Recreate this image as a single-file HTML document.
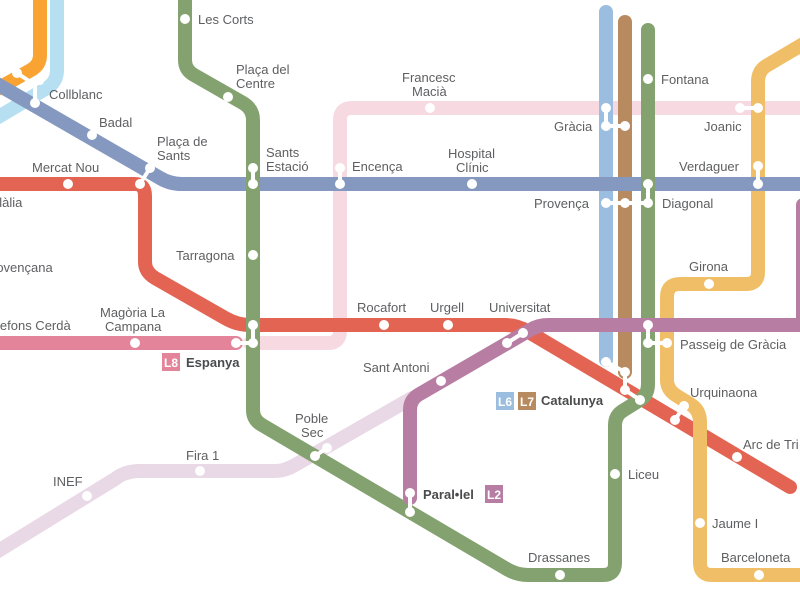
<!DOCTYPE html>
<html><head><meta charset="utf-8"><style>
html,body{margin:0;padding:0;background:#fff;}
svg{display:block;}
text{font-family:"Liberation Sans",sans-serif;font-size:13px;fill:#5e5f61;}
.b{font-weight:bold;fill:#4a4b4d;}
</style></head><body>
<svg width="800" height="600" viewBox="0 0 800 600" xmlns="http://www.w3.org/2000/svg">
<g fill="none" stroke-linecap="round" stroke-linejoin="round" stroke-width="14">
<!-- light purple -->
<path d="M-10,556 L115,479 Q125,471 140,471 L275,471 Q285,471 295,465 L412,398" stroke="#e9d8e5"/>
<!-- light pink -->
<path d="M810,108 L352,108 Q340,108 340,120 L340,331 Q340,343 328,343 L250,343" stroke="#f7d9e1"/>
<!-- L8 pink -->
<path d="M-10,343 L236,343" stroke="#e4849b"/>
<!-- top-left orange/light blue -->
<path d="M57,-10 L57,70 Q57,82 47,88 L-10,122" stroke="#b7dff2"/>
<path d="M40,-10 L40,55 Q40,65 31,70 L-10,93" stroke="#f9a332"/>
<!-- L6 L7 -->
<path d="M606,12 L606,360" stroke="#9bbde0"/>
<path d="M625,22 L625,372" stroke="#b78b5f"/>
<!-- red L1 -->
<path d="M-10,184 L135,184 Q145,184 145,196 L145,262 Q145,272 155,278 L225,318 Q237,325 250,325 L505,325 Q517,325 527,331 L790,487" stroke="#e36452"/>
<!-- yellow L4 -->
<path d="M810,40 L766,66 Q758,71 758,82 L758,272 Q758,284 746,284 L680,284 Q667,284 667,297 L667,380 Q667,390 677,396 L690,404 Q700,410 700,422 L700,563 Q700,575 712,575 L810,575" stroke="#f0be66"/>
<!-- blue L5 -->
<path d="M-10,80 L160,178 Q170,184 182,184 L810,184" stroke="#8599c0"/>
<!-- green L3 -->
<path d="M185,-10 L185,60 Q185,70 194,75 L243,103 Q253,109 253,120 L253,410 Q253,420 262,425 L505,568 Q516,575 528,575 L603,575 Q615,575 615,563 L615,425 Q615,415 624,410 L640,400 Q648,395 648,384 L648,30" stroke="#84a26f"/>
<!-- purple L2 -->
<path d="M803,205 L803,320 M810,325 L548,325 Q538,325 530,330 L418,395 Q410,400 410,410 L410,498" stroke="#b87da3"/>
</g>
<!-- connectors -->
<g stroke="#fff" stroke-width="4" fill="none" stroke-linecap="round">
<path d="M17,73 L35,85 L35,103 M35,85 L40,81"/>
<path d="M150,168 L140,184"/>
<path d="M253,168 L253,184"/>
<path d="M340,168 L340,184"/>
<path d="M253,325 L253,343 L236,343"/>
<path d="M507,343 L523,333"/>
<path d="M315,456 L327,448"/>
<path d="M410,493 L410,512"/>
<path d="M606,108 L606,126 L625,126"/>
<path d="M606,203 L648,203 L648,184"/>
<path d="M740,108 L758,108"/>
<path d="M758,166 L758,184"/>
<path d="M648,325 L648,343 L667,343"/>
<path d="M606,362 L625,372 L625,390 L640,400"/>
<path d="M675,420 L684,406"/>
</g>
<g fill="#fff">
<circle cx="185" cy="19" r="5"/><circle cx="228" cy="97" r="5"/>
<circle cx="17" cy="73" r="5"/><circle cx="35" cy="103" r="5"/><circle cx="40" cy="81" r="4"/>
<circle cx="92" cy="135" r="5"/><circle cx="150" cy="168" r="5"/><circle cx="140" cy="184" r="5"/>
<circle cx="68" cy="184" r="5"/><circle cx="253" cy="168" r="5"/><circle cx="253" cy="184" r="5"/>
<circle cx="340" cy="168" r="5"/><circle cx="340" cy="184" r="5"/><circle cx="472" cy="184" r="5"/>
<circle cx="253" cy="255" r="5"/><circle cx="430" cy="108" r="5"/>
<circle cx="606" cy="108" r="5"/><circle cx="606" cy="126" r="5"/><circle cx="625" cy="126" r="5"/>
<circle cx="648" cy="79" r="5"/><circle cx="740" cy="108" r="5"/><circle cx="758" cy="108" r="5"/>
<circle cx="758" cy="166" r="5"/><circle cx="758" cy="184" r="5"/><circle cx="648" cy="184" r="5"/>
<circle cx="606" cy="203" r="5"/><circle cx="625" cy="203" r="5"/><circle cx="648" cy="203" r="5"/>
<circle cx="709" cy="284" r="5"/>
<circle cx="135" cy="343" r="5"/><circle cx="236" cy="343" r="5"/><circle cx="253" cy="325" r="5"/><circle cx="253" cy="343" r="5"/>
<circle cx="384" cy="325" r="5"/><circle cx="448" cy="325" r="5"/>
<circle cx="507" cy="343" r="5"/><circle cx="523" cy="333" r="5"/>
<circle cx="441" cy="381" r="5"/><circle cx="410" cy="493" r="5"/><circle cx="410" cy="512" r="5"/>
<circle cx="648" cy="325" r="5"/><circle cx="648" cy="343" r="5"/><circle cx="667" cy="343" r="5"/>
<circle cx="606" cy="362" r="5"/><circle cx="625" cy="372" r="5"/><circle cx="625" cy="390" r="5"/><circle cx="640" cy="400" r="5"/>
<circle cx="675" cy="420" r="5"/><circle cx="684" cy="406" r="5"/>
<circle cx="737" cy="457" r="5"/><circle cx="615" cy="474" r="5"/><circle cx="700" cy="523" r="5"/>
<circle cx="560" cy="575" r="5"/><circle cx="759" cy="575" r="5"/>
<circle cx="315" cy="456" r="5"/><circle cx="327" cy="448" r="5"/>
<circle cx="200" cy="471" r="5"/><circle cx="87" cy="496" r="5"/>
</g>
<!-- labels -->
<text x="198" y="24">Les Corts</text>
<text x="236" y="74">Plaça del</text><text x="236" y="88">Centre</text>
<text x="49" y="99">Collblanc</text>
<text x="99" y="127">Badal</text>
<text x="157" y="146">Plaça de</text><text x="157" y="160">Sants</text>
<text x="32" y="172">Mercat Nou</text>
<text x="-8" y="207">ulàlia</text>
<text x="-8" y="272">rovençana</text>
<text x="266" y="157">Sants</text><text x="266" y="171">Estació</text>
<text x="352" y="171">Encença</text>
<text x="176" y="260">Tarragona</text>
<text x="402" y="82">Francesc</text><text x="412" y="96">Macià</text>
<text x="448" y="158">Hospital</text><text x="456" y="172">Clínic</text>
<text x="554" y="131">Gràcia</text>
<text x="661" y="84">Fontana</text>
<text x="704" y="131">Joanic</text>
<text x="679" y="171">Verdaguer</text>
<text x="534" y="208">Provença</text>
<text x="662" y="208">Diagonal</text>
<text x="689" y="271">Girona</text>
<text x="-3" y="330">lefons Cerdà</text>
<text x="100" y="317">Magòria La</text><text x="105" y="331">Campana</text>
<text x="357" y="312">Rocafort</text>
<text x="430" y="312">Urgell</text>
<text x="489" y="312">Universitat</text>
<text x="680" y="349">Passeig de Gràcia</text>
<text x="363" y="372">Sant Antoni</text>
<text x="690" y="397">Urquinaona</text>
<text x="743" y="449">Arc de Tri</text>
<text x="295" y="423">Poble</text><text x="301" y="437">Sec</text>
<text x="186" y="460">Fira 1</text>
<text x="53" y="486">INEF</text>
<text x="628" y="479">Liceu</text>
<text x="712" y="528">Jaume I</text>
<text x="721" y="562">Barceloneta</text>
<text x="528" y="562">Drassanes</text>
<!-- badges -->
<rect x="162" y="353" width="18" height="18" fill="#e4849b"/><text x="164" y="367" style="fill:#fff;font-size:12px;font-weight:bold">L8</text>
<text x="186" y="367" class="b">Espanya</text>
<rect x="496" y="392" width="18" height="18" fill="#9bbde0"/><text x="498" y="406" style="fill:#fff;font-size:12px;font-weight:bold">L6</text>
<rect x="518" y="392" width="18" height="18" fill="#b78b5f"/><text x="520" y="406" style="fill:#fff;font-size:12px;font-weight:bold">L7</text>
<text x="541" y="405" class="b">Catalunya</text>
<text x="423" y="499" class="b">Paral•lel</text>
<rect x="485" y="485" width="18" height="18" fill="#b87da3"/><text x="487" y="499" style="fill:#fff;font-size:12px;font-weight:bold">L2</text>
</svg>
</body></html>
